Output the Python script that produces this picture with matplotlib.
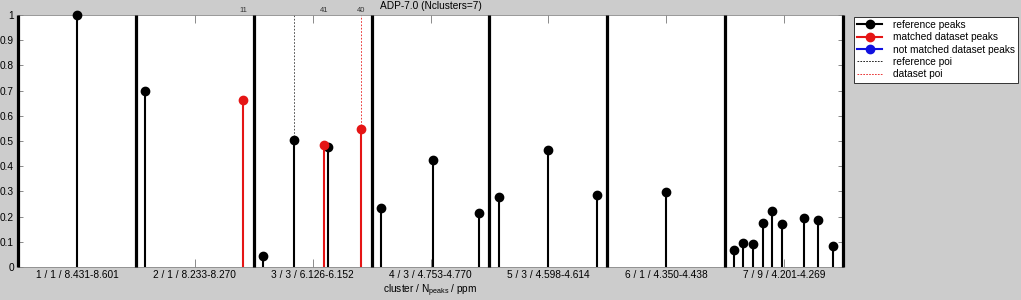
import matplotlib
matplotlib.use('Agg')
import matplotlib.pyplot as plt
from matplotlib.lines import Line2D
from matplotlib.legend_handler import HandlerLine2D

plt.rcParams['font.family'] = ['Liberation Sans', 'DejaVu Sans']
plt.rcParams['mathtext.fontset'] = 'custom'
plt.rcParams['mathtext.rm'] = 'Liberation Sans'

# ---------------- data ----------------
title = 'ADP-7.0 (Nclusters=7)'
cluster_labels = ['1 / 1 / 8.431-8.601', '2 / 1 / 8.233-8.270', '3 / 3 / 6.126-6.152',
                  '4 / 3 / 4.753-4.770', '5 / 3 / 4.598-4.614', '6 / 1 / 4.350-4.438',
                  '7 / 9 / 4.201-4.269']
cluster_bounds = [0, 1, 2, 3, 4, 5, 6, 7]

ref_x = [0.500, 1.078, 2.079, 2.342, 2.633, 3.083, 3.519, 3.911, 4.081, 4.497,
         4.913, 5.495, 6.078, 6.154, 6.239, 6.324, 6.397, 6.485, 6.669, 6.788, 6.912]
ref_y = [1.000, 0.700, 0.044, 0.504, 0.476, 0.235, 0.425, 0.216, 0.278, 0.466,
         0.286, 0.296, 0.067, 0.094, 0.090, 0.176, 0.222, 0.172, 0.193, 0.185, 0.082]

matched_x = [1.913, 2.600, 2.914]
matched_y = [0.664, 0.485, 0.546]

ref_poi_x = [2.342]
ref_poi_y = [0.504]
data_poi_x = [2.914]
data_poi_y = [0.546]

poi_label_x = [1.913, 2.600, 2.914]
poi_labels = ['11', '41', '40']

yticks = [0, 0.1, 0.2, 0.3, 0.4, 0.5, 0.6, 0.7, 0.8, 0.9, 1.0]
ytick_labels = ['0', '0.1', '0.2', '0.3', '0.4', '0.5', '0.6', '0.7', '0.8', '0.9', '1']

# ---------------- style ----------------
RED = '#e51515'
BLUE = '#1010e0'
FS = 7.3

fig = plt.figure(figsize=(10.21, 3.0), dpi=100, facecolor='#cccccc')
ax = fig.add_axes([18 / 1021, 33 / 300, 825 / 1021, 252 / 300])
ax.set_facecolor('white')

# cluster boundaries
ax.vlines(cluster_bounds, 0, 1, color='black', lw=2.3, zorder=3, clip_on=False)

# poi dotted lines
ax.vlines(ref_poi_x, ref_poi_y, 1, color='#333333', lw=0.6, linestyles=(0, (2, 2)), zorder=2)
ax.vlines(data_poi_x, data_poi_y, 1, color=RED, lw=0.6, linestyles=(0, (2, 2)), zorder=2)

# reference peaks
ax.vlines(ref_x, 0, ref_y, color='black', lw=1.5, zorder=4)
ax.plot(ref_x, ref_y, 'o', color='black', ms=6, zorder=5, clip_on=False)

# matched dataset peaks
ax.vlines(matched_x, 0, matched_y, color=RED, lw=1.5, zorder=6)
ax.plot(matched_x, matched_y, 'o', color=RED, ms=6, zorder=7)

# poi labels
for xv, lab in zip(poi_label_x, poi_labels):
    ax.annotate(lab, (xv, 1.0), xytext=(0, 0.6), textcoords='offset points',
                ha='center', va='bottom', fontsize=5.5, color='#333333',
                annotation_clip=False)

ax.set_xlim(0, 7)
ax.set_ylim(0, 1)
ax.set_xticks([b + 0.5 for b in cluster_bounds[:-1]])
ax.set_xticklabels(cluster_labels, fontsize=FS)
ax.set_yticks(yticks)
ax.set_yticklabels(ytick_labels, fontsize=FS)
ax.tick_params(axis='x', direction='in', length=6, width=0.6, color='#777777',
               top=True, bottom=True, pad=2.5)
ax.tick_params(axis='y', direction='in', length=3.6, width=0.6, color='#777777',
               left=True, right=True, pad=3)
for sp in ax.spines.values():
    sp.set_color('#888888')
    sp.set_linewidth(0.6)

ax.set_xlabel(r'cluster / N$_\mathregular{peaks}$ / ppm', fontsize=FS, labelpad=1.5)
ax.set_title(title, fontsize=FS, pad=4)

# legend
class EndMarkerHandler(HandlerLine2D):
    def get_xdata(self, legend, xdescent, ydescent, width, height, fontsize):
        xdata = [-xdescent, -xdescent + width]
        return xdata, [-xdescent + width - 1]

handles = [
    Line2D([], [], color='black', lw=1.5, marker='o', ms=6),
    Line2D([], [], color=RED, lw=1.5, marker='o', ms=6),
    Line2D([], [], color=BLUE, lw=1.5, marker='o', ms=6),
    Line2D([], [], color='black', lw=0.6, ls=(0, (2, 1.5))),
    Line2D([], [], color=RED, lw=0.6, ls=(0, (2, 1.5))),
]
labels = ['reference peaks', 'matched dataset peaks', 'not matched dataset peaks',
          'reference poi', 'dataset poi']
hm = {h: EndMarkerHandler() for h in handles[:3]}
leg = fig.legend(handles, labels, loc='upper left',
                 bbox_to_anchor=(854 / 1021, 1 - 16.7 / 300), borderaxespad=0,
                 fontsize=FS, frameon=True, fancybox=False, framealpha=1,
                 edgecolor='#333333', handlelength=2.5, handletextpad=1.0,
                 borderpad=0.3, labelspacing=0.24, handler_map=hm)
leg.get_frame().set_linewidth(0.7)

fig.savefig('out.png', dpi=100, facecolor=fig.get_facecolor())
